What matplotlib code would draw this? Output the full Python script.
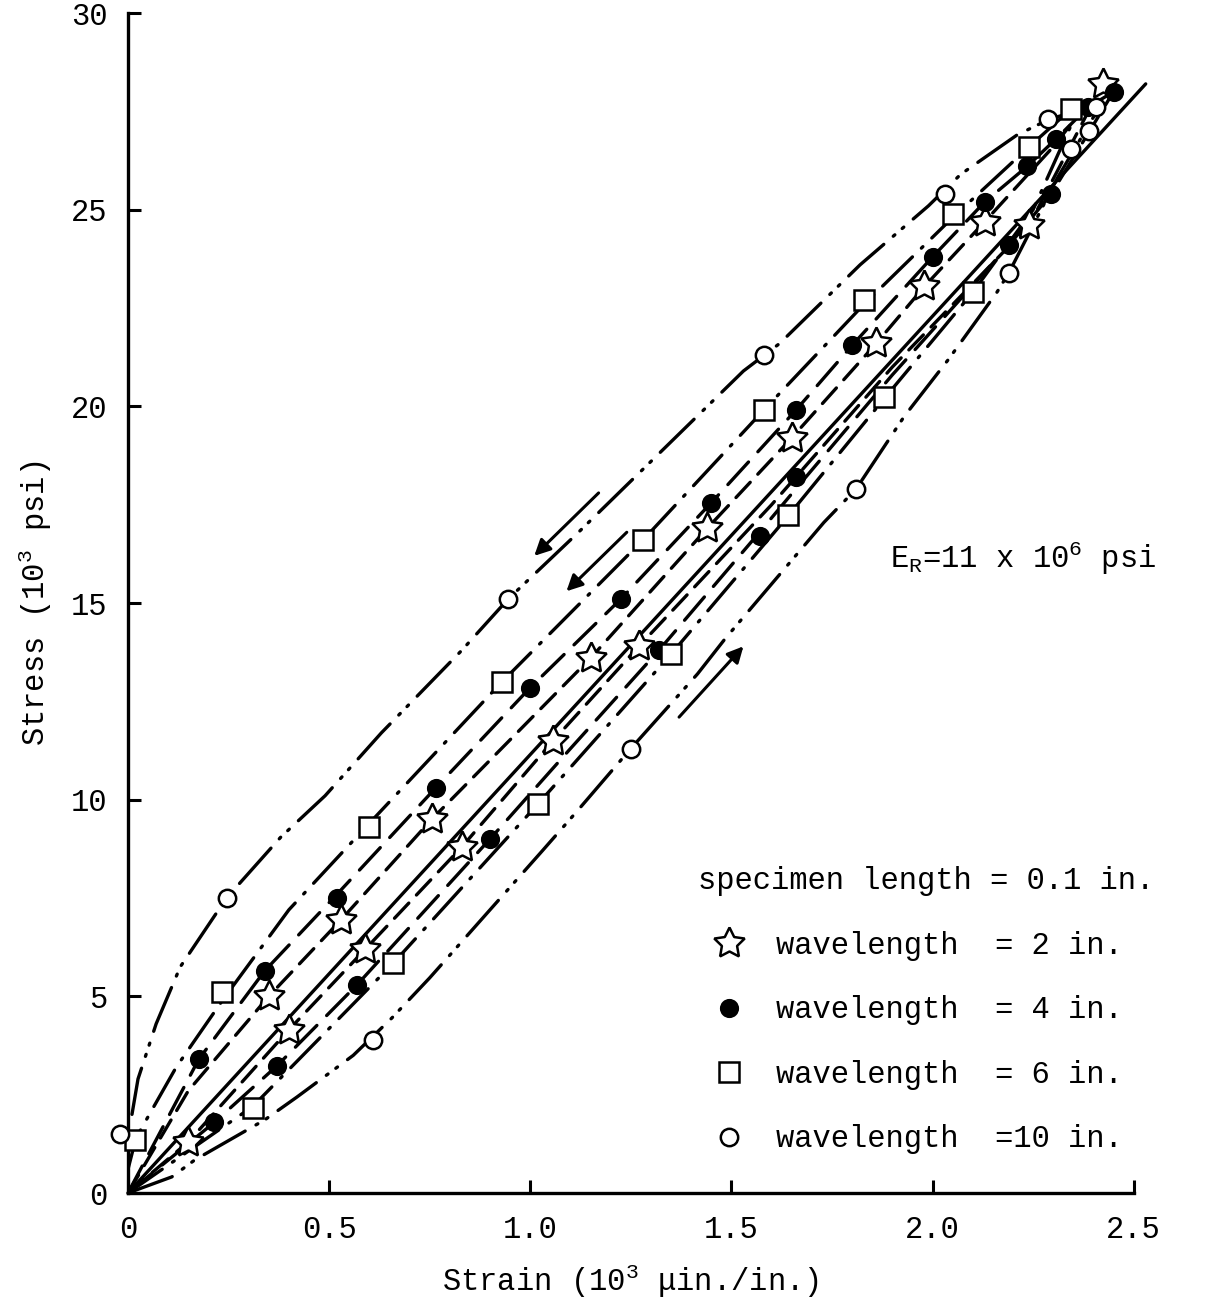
import matplotlib
matplotlib.use("Agg")
import matplotlib.pyplot as plt

plt.rcParams['font.family'] = ['Liberation Mono', 'DejaVu Sans']
plt.rcParams['mathtext.fontset'] = 'custom'
plt.rcParams['mathtext.rm'] = 'Liberation Mono'
plt.rcParams['mathtext.it'] = 'Liberation Mono'
plt.rcParams['mathtext.bf'] = 'Liberation Mono:bold'
plt.rcParams['mathtext.default'] = 'rm'
plt.rcParams['lines.scale_dashes'] = False

# ---------------- data (strain 10^3 uin/in, stress 10^3 psi) ----------------
# measured points
star_x = [0.15, 0.35, 0.40, 0.53, 0.59, 0.755, 0.83, 1.057, 1.15, 1.27, 1.44, 1.65, 1.86, 1.98, 2.13, 2.24, 2.423]
star_y = [1.3, 5.0, 4.15, 6.95, 6.2, 9.5, 8.8, 11.5, 13.6, 13.9, 16.9, 19.2, 21.6, 23.05, 24.7, 24.6, 28.2]

fill_x = [0.176, 0.215, 0.34, 0.37, 0.52, 0.57, 0.765, 0.90, 1.0, 1.225, 1.32, 1.45, 1.57, 1.66, 1.66, 1.80,
          2.0, 2.13, 2.19, 2.235, 2.295, 2.307, 2.386, 2.45]
fill_y = [3.4, 1.8, 5.65, 3.23, 7.5, 5.3, 10.3, 9.0, 12.85, 15.1, 13.8, 17.55, 16.7, 19.9, 18.2, 21.55,
          23.8, 25.2, 24.1, 26.1, 25.4, 26.8, 27.6, 28.0]

sq_x = [0.017, 0.235, 0.31, 0.60, 0.66, 0.93, 1.02, 1.28, 1.35, 1.58, 1.64, 1.83, 1.88, 2.05, 2.10, 2.24, 2.344]
sq_y = [1.35, 5.1, 2.15, 9.3, 5.85, 13.0, 9.9, 16.6, 13.7, 19.9, 17.25, 22.7, 20.25, 24.9, 22.9, 26.6, 27.56]

open_x = [-0.02, 0.245, 0.61, 0.945, 1.25, 1.58, 1.81, 2.03, 2.19, 2.287, 2.344, 2.39, 2.406]
open_y = [1.5, 7.5, 3.9, 15.1, 11.3, 21.3, 17.9, 25.4, 23.4, 27.3, 26.54, 27.0, 27.6]

# reference modulus line E_R
ref_x = [0.0, 2.53]
ref_y = [0.0, 28.2]

# hysteresis loop curves (upper = unloading, lower = loading)
w10_up_x = [0.01, 0.025, 0.07, 0.13, 0.245, 0.38, 0.49, 0.63, 0.83, 0.945, 1.12, 1.27, 1.38, 1.53, 1.62,
            1.72, 1.82, 1.99, 2.07, 2.21, 2.29, 2.42]
w10_up_y = [2.0, 2.9, 4.3, 5.75, 7.5, 9.05, 10.1, 11.7, 13.8, 15.1, 16.8, 18.3, 19.4, 20.9, 21.6,
            22.6, 23.6, 25.1, 25.9, 26.9, 27.3, 27.7]
w10_lo_x = [0.0, 0.109, 0.166, 0.34, 0.42, 0.56, 0.656, 0.75, 1.03, 1.12, 1.25, 1.416, 1.485, 1.73, 1.81,
            1.93, 2.04, 2.16, 2.19, 2.31, 2.42]
w10_lo_y = [0.0, 0.41, 0.84, 1.86, 2.44, 3.5, 4.45, 5.47, 8.7, 9.75, 11.3, 13.2, 14.1, 17.05, 17.9,
            19.75, 21.2, 22.9, 23.4, 25.8, 27.7]

w6_up_x = [0.0, 0.02, 0.12, 0.235, 0.4, 0.6, 0.93, 1.28, 1.58, 1.83, 2.05, 2.24, 2.36]
w6_up_y = [0.6, 1.4, 3.2, 4.9, 7.2, 9.4, 13.0, 16.6, 19.9, 22.6, 24.8, 26.6, 27.7]
w6_lo_x = [0.0, 0.31, 0.66, 1.02, 1.35, 1.64, 1.88, 2.10, 2.25, 2.36]
w6_lo_y = [0.0, 2.2, 5.85, 9.9, 13.7, 17.2, 20.2, 22.9, 25.0, 27.5]

w4_up_x = [0.0, 0.176, 0.34, 0.52, 0.765, 1.0, 1.225, 1.45, 1.66, 1.80, 2.0, 2.13, 2.235, 2.307, 2.386, 2.45]
w4_up_y = [0.0, 3.4, 5.65, 7.6, 10.3, 12.85, 15.1, 17.55, 19.9, 21.55, 23.8, 25.2, 26.1, 26.8, 27.6, 28.0]
w4_lo_x = [0.0, 0.215, 0.37, 0.57, 0.90, 1.1, 1.32, 1.57, 1.66, 1.9, 2.19, 2.295, 2.45]
w4_lo_y = [0.0, 1.8, 3.23, 5.3, 9.0, 11.3, 13.8, 16.8, 17.9, 20.8, 24.1, 25.4, 28.0]

w2_up_x = [0.0, 0.15, 0.35, 0.53, 0.755, 1.15, 1.44, 1.65, 1.86, 1.98, 2.13, 2.3, 2.423]
w2_up_y = [0.0, 2.6, 5.0, 6.95, 9.5, 13.6, 16.9, 19.2, 21.6, 23.05, 24.7, 26.6, 28.2]
w2_lo_x = [0.0, 0.15, 0.40, 0.59, 0.83, 1.057, 1.27, 1.6, 1.9, 2.24, 2.423]
w2_lo_y = [0.0, 1.3, 4.15, 6.2, 8.8, 11.5, 13.9, 17.5, 21.0, 24.6, 28.2]

# direction arrows: (tail, head)
arrows = [((1.17, 17.8), (1.01, 16.2)),
          ((1.24, 16.8), (1.09, 15.3)),
          ((1.37, 12.1), (1.53, 13.9))]

xticks = [0, 0.5, 1.0, 1.5, 2.0, 2.5]
xticklabels = ['0', '0.5', '1.0', '1.5', '2.0', '2.5']
yticks = [0, 5, 10, 15, 20, 25, 30]
yticklabels = ['0', '5', '10', '15', '20', '25', '30']

legend_labels = ['wavelength  = 2 in.', 'wavelength  = 4 in.',
                 'wavelength  = 6 in.', 'wavelength  =10 in.']

# ---------------- figure ----------------
fig = plt.figure(figsize=(12.06, 13.09), dpi=100)
ax = fig.add_axes([0.1061, 0.0886, 0.8339, 0.9014])
ax.set_xlim(0, 2.5)
ax.set_ylim(0, 30)

LW = 2.4
ls10 = (0, (34, 9, 1.5, 7, 1.5, 9))
ls6 = (0, (30, 9, 1.5, 9))
ls4 = (0, (22, 10))
ls2 = (0, (15, 8))

common = dict(color='black', lw=LW, dash_capstyle='round', solid_capstyle='round', zorder=2)
ax.plot(ref_x, ref_y, '-', clip_on=False, **common)
ax.plot(w10_up_x, w10_up_y, linestyle=ls10, **common)
ax.plot(w10_lo_x, w10_lo_y, linestyle=ls10, **common)
ax.plot(w6_up_x, w6_up_y, linestyle=ls6, **common)
ax.plot(w6_lo_x, w6_lo_y, linestyle=ls6, **common)
ax.plot(w4_up_x, w4_up_y, linestyle=ls4, **common)
ax.plot(w4_lo_x, w4_lo_y, linestyle=ls4, **common)
ax.plot(w2_up_x, w2_up_y, linestyle=ls2, **common)
ax.plot(w2_lo_x, w2_lo_y, linestyle=ls2, **common)

for tail, head in arrows:
    ax.annotate('', xy=head, xytext=tail,
                arrowprops=dict(arrowstyle='-|>', lw=2.2, color='black',
                                mutation_scale=24, shrinkA=0, shrinkB=0))

mk = dict(linestyle='none', color='black', markeredgewidth=1.8, clip_on=False, zorder=4)
h_star, = ax.plot(star_x, star_y, marker=(5, 1, 0), markersize=23, markerfacecolor='white', **mk)
h_fill, = ax.plot(fill_x, fill_y, marker='o', markersize=12, markerfacecolor='black', **mk)
h_sq, = ax.plot(sq_x, sq_y, marker='s', markersize=14, markerfacecolor='white', **mk)
h_open, = ax.plot(open_x, open_y, marker='o', markersize=12.5, markerfacecolor='white', **mk)

# axes styling
for s in ['top', 'right']:
    ax.spines[s].set_visible(False)
for s in ['left', 'bottom']:
    ax.spines[s].set_linewidth(2.4)
ax.set_xticks(xticks)
ax.set_xticklabels(xticklabels)
ax.set_yticks(yticks)
ax.set_yticklabels(yticklabels)
ax.tick_params(axis='both', direction='in', length=9.5, width=2.2, labelsize=22)
ax.tick_params(axis='x', pad=16)
ax.tick_params(axis='y', pad=15)

ax.set_xlabel('Strain (10$^3$ \u03bcin./in.)', fontsize=22, labelpad=12)
ax.set_ylabel('Stress (10$^3$ psi)', fontsize=22, labelpad=12)

ax.text(1.895, 16.15, 'E$_\\mathrm{R}$=11 x 10$^6$ psi', fontsize=22, ha='left', va='center')

leg = ax.legend([h_star, h_fill, h_sq, h_open], legend_labels,
                title='specimen length = 0.1 in.', loc='upper left',
                bbox_to_anchor=(0.567, 0.277), frameon=False, fontsize=22,
                title_fontsize=22, alignment='left', handlelength=2.0,
                handletextpad=0.55, labelspacing=1.13, borderpad=0,
                borderaxespad=0, numpoints=1)

fig.savefig('out.png', dpi=100)
